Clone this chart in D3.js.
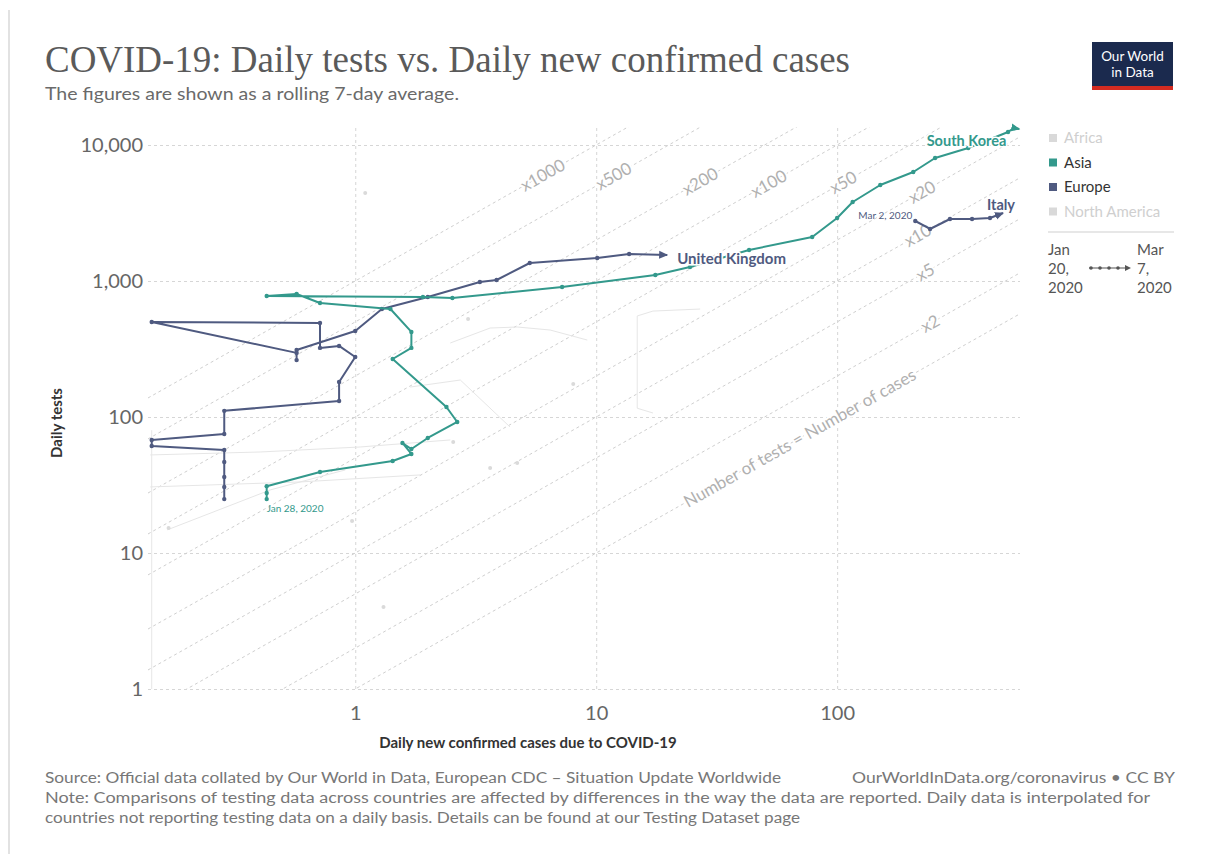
<!DOCTYPE html>
<html>
<head>
<meta charset="utf-8">
<script src="https://cdn.jsdelivr.net/npm/d3@7"></script>
<style>
  body { margin: 0; background: #fff; }
  svg { display: block; font-family: Lato, "Noto Sans", sans-serif; }
</style>
</head>
<body>
<svg id="chart" width="1208" height="854"></svg>
<script>
// ---- Data: 7-day rolling averages (daily new cases, daily tests) ----
const ukCases = [0.286, 0.286, 0.286, 0.286, 0.286, 0.143, 0.143, 0.286, 0.286, 0.857, 0.857, 1.0, 0.857, 0.714,
  0.714, 0.143, 0.571, 0.571, 0.571, 1.0, 1.29, 2.0, 3.29, 3.86, 5.3, 10.1, 13.7, 19.7];
const ukTests = [24.9, 30.6, 36.2, 46.7, 57.2, 61.2, 67.8, 75, 111, 131, 181, 276, 333, 322,
  491, 500, 296, 262, 311, 429, 622, 763, 984, 1017, 1356, 1476, 1580, 1553];

const koreaCases = [0.429, 0.429, 0.429, 0.714, 1.43, 1.71, 1.57, 1.71, 2.0, 2.65, 2.39, 1.43, 1.71, 1.71, 1.40,
  0.714, 0.571, 0.429, 1.91, 2.53, 7.22, 17.6, 24.5, 43.1, 78.8, 100, 116, 151, 207, 255, 350, 512, 543, 570];
const koreaTests = [24.9, 27.6, 31.0, 39.4, 47.5, 53.5, 64.4, 58.2, 70.1, 91.9, 118.5, 267, 322, 422, 622,
  689, 802, 776, 763, 750, 903, 1107, 1268, 1690, 2107, 2905, 3810, 5081, 6330, 8020, 9500, 12470, 13330, 13100];

const italyCases = [211, 243, 294, 363, 431, 488];
const italyTests = [2761, 2412, 2857, 2857, 2904, 3162];

// Other countries, shown faded
const fadedCases = [
  [2.48, 3.63, 4.70, 6.44, 9.18],
  [27.0, 17.2, 14.8, 14.8, 17.2],
  [0.141, 0.404, 1.05, 2.48],
  [0.141, 0.591, 1.86],
  [0.166, 0.444, 0.909],
  [1.69, 2.73, 4.39],
  [0.143, 0.143]
];
const fadedTests = [
  [350, 451, 459, 436, 368],
  [622, 601, 553, 116, 107],
  [52.6, 55.3, 60.2, 67.8],
  [30.6, 33.3, 37.5],
  [14.8, 29.1, 40.8],
  [166, 187, 84.4],
  [80, 1]
];
const fadedDotCases = [1.10, 2.94, 8.03, 2.55, 3.63, 4.70, 1.31, 0.97, 0.168];
const fadedDotTests = [4436, 526, 175, 65.5, 42.2, 45.9, 4.0, 17.2, 15.3];

// Reference lines: tests = ratio × cases
const ratios = [1, 2, 5, 10, 20, 50, 100, 200, 500, 1000];
const ratioLabels = ["Number of tests = Number of cases", "x2", "x5", "x10", "x20", "x50", "x100", "x200", "x500", "x1000"];
const ratioLabelAt = [70, 243, 232, 216, 225, 106, 52, 27, 11.8, 6.0]; // cases value where each label sits

const xTicks = [1, 10, 100];
const yTicks = [1, 10, 100, 1000, 10000];

const legendNames = ["Africa", "Asia", "Europe", "North America"];
const legendActive = [false, true, true, false];

// ---- Layout ----
const svg = d3.select("#chart");
const L = 148, R = 1020, T = 127, B = 689;
const x = d3.scaleLog().domain([0.138, 574]).range([L, R]);
const y = d3.scaleLog().domain([1, 13560]).range([B, T]);

const colAsia = "#33998c", colEurope = "#4f5a80";
const colors = { Asia: colAsia, Europe: colEurope };

// Frame line on the left
svg.append("line").attr("x1", 9).attr("x2", 9).attr("y1", 10).attr("y2", 854)
  .attr("stroke", "#d8d8d8").attr("stroke-width", 1.5);

// Title & subtitle
svg.append("text").attr("x", 45).attr("y", 72)
  .attr("font-family", "'Liberation Serif', 'DejaVu Serif', serif")
  .attr("font-size", 38).attr("fill", "#5a5a5a")
  .attr("textLength", 805).attr("lengthAdjust", "spacingAndGlyphs")
  .text("COVID-19: Daily tests vs. Daily new confirmed cases");
svg.append("text").attr("x", 45).attr("y", 100)
  .attr("font-size", 16.5).attr("fill", "#6a6a6a")
  .attr("textLength", 414).attr("lengthAdjust", "spacingAndGlyphs")
  .text("The figures are shown as a rolling 7-day average.");

// Logo
const logo = svg.append("g");
logo.append("rect").attr("x", 1092).attr("y", 42).attr("width", 81).attr("height", 48).attr("fill", "#1b2a4e");
logo.append("rect").attr("x", 1092).attr("y", 86).attr("width", 81).attr("height", 4).attr("fill", "#d42b21");
logo.append("text").attr("x", 1132.5).attr("y", 61).attr("text-anchor", "middle")
  .attr("font-size", 13.5).attr("fill", "#fff").text("Our World");
logo.append("text").attr("x", 1132.5).attr("y", 77).attr("text-anchor", "middle")
  .attr("font-size", 13.5).attr("fill", "#fff").text("in Data");

// Clip for the plot area
svg.append("defs").append("clipPath").attr("id", "plotClip")
  .append("rect").attr("x", L).attr("y", T).attr("width", R - L).attr("height", B - T);

// Gridlines + axes
const yAxis = d3.axisLeft(y).tickValues(yTicks).tickFormat(d3.format(","))
  .tickSize(-(R - L)).tickPadding(5);
const gy = svg.append("g").attr("transform", `translate(${L},0)`).call(yAxis);
gy.select(".domain").remove();
gy.selectAll(".tick line").attr("stroke", "#d6d6d6").attr("stroke-dasharray", "3,3");
gy.selectAll(".tick text").attr("font-size", 20).attr("fill", "#666").attr("font-family", "Lato, sans-serif");

const xAxis = d3.axisBottom(x).tickValues(xTicks).tickFormat(d3.format(","))
  .tickSize(-(B - T)).tickPadding(17);
const gx = svg.append("g").attr("transform", `translate(0,${B})`).call(xAxis);
gx.select(".domain").remove();
gx.selectAll(".tick line").attr("stroke", "#d6d6d6").attr("stroke-dasharray", "3,3");
gx.selectAll(".tick text").attr("font-size", 20).attr("fill", "#666").attr("font-family", "Lato, sans-serif");

// Axis titles
svg.append("text").attr("x", 528).attr("y", 748).attr("text-anchor", "middle")
  .attr("font-size", 15).attr("font-weight", 700).attr("fill", "#333")
  .text("Daily new confirmed cases due to COVID-19");
svg.append("text").attr("transform", "translate(62,423) rotate(-90)").attr("text-anchor", "middle")
  .attr("font-size", 15).attr("font-weight", 700).attr("fill", "#333")
  .text("Daily tests");

// Ratio lines
const plot = svg.append("g").attr("clip-path", "url(#plotClip)");
const [x0, x1] = x.domain();
ratios.forEach(k => {
  plot.append("line")
    .attr("x1", x(x0)).attr("y1", y(k * x0))
    .attr("x2", x(x1)).attr("y2", y(k * x1))
    .attr("stroke", "#cfcfcf").attr("stroke-width", 1).attr("stroke-dasharray", "3,3");
});

// Faded countries
const line = d3.line().x(d => x(d[0])).y(d => y(d[1]));
fadedCases.forEach((cs, i) => {
  const pts = cs.map((c, j) => [c, fadedTests[i][j]]);
  plot.append("path").attr("d", line(pts)).attr("fill", "none")
    .attr("stroke", "#e6e6e6").attr("stroke-width", 1);
});
fadedDotCases.forEach((c, i) => {
  plot.append("circle").attr("cx", x(c)).attr("cy", y(fadedDotTests[i])).attr("r", 2).attr("fill", "#dadada");
});

// Ratio labels
const angle = Math.atan2(y(10) - y(1), x(10) - x(1)) * 180 / Math.PI;
ratios.forEach((k, i) => {
  const c = ratioLabelAt[i];
  svg.append("text")
    .attr("transform", `translate(${x(c)},${y(k * c)}) rotate(${angle})`)
    .attr("text-anchor", "middle").attr("dy", "0.35em")
    .attr("font-size", 17).attr("fill", "#b0b0b0")
    .attr("stroke", "#fff").attr("stroke-width", 4).attr("paint-order", "stroke")
    .text(ratioLabels[i]);
});

// Arrow markers
const defs = svg.select("defs");
Object.entries(colors).forEach(([name, col]) => {
  defs.append("marker").attr("id", "arrow-" + name)
    .attr("viewBox", "0 -5 10 10").attr("refX", 8).attr("refY", 0)
    .attr("markerWidth", 10).attr("markerHeight", 10).attr("markerUnits", "userSpaceOnUse")
    .attr("orient", "auto")
    .append("path").attr("d", "M0,-4L9,0L0,4Z").attr("fill", col);
});

// Country lines
const series = [
  { name: "United Kingdom", region: "Europe", cases: ukCases, tests: ukTests },
  { name: "South Korea", region: "Asia", cases: koreaCases, tests: koreaTests },
  { name: "Italy", region: "Europe", cases: italyCases, tests: italyTests }
];
series.forEach(s => {
  const col = colors[s.region];
  const pts = s.cases.map((c, i) => [c, s.tests[i]]);
  const g = svg.append("g");
  g.append("path").attr("d", line(pts)).attr("fill", "none")
    .attr("stroke", col).attr("stroke-width", 2).attr("stroke-linejoin", "round")
    .attr("marker-end", `url(#arrow-${s.region})`);
  g.selectAll("circle").data(pts.slice(0, -1)).join("circle")
    .attr("cx", d => x(d[0])).attr("cy", d => y(d[1])).attr("r", 2.2).attr("fill", col);
  s.pts = pts;
});

// Line labels
function endPoint(s) { const p = s.pts[s.pts.length - 1]; return [x(p[0]), y(p[1])]; }
function startPoint(s) { const p = s.pts[0]; return [x(p[0]), y(p[1])]; }
const halo = sel => sel.attr("stroke", "#fff").attr("stroke-width", 3).attr("paint-order", "stroke");

let [ex, ey] = endPoint(series[0]);
svg.append("text").attr("x", ex + 10).attr("y", ey + 9).attr("font-size", 15).attr("font-weight", 700)
  .attr("fill", colEurope).call(halo).text("United Kingdom");
[ex, ey] = endPoint(series[1]);
svg.append("text").attr("x", ex - 13).attr("y", ey + 17).attr("text-anchor", "end").attr("font-size", 14.5)
  .attr("font-weight", 700).attr("fill", colAsia).call(halo).text("South Korea");
[ex, ey] = endPoint(series[2]);
svg.append("text").attr("x", ex + 12).attr("y", ey - 3).attr("text-anchor", "end").attr("font-size", 14.5)
  .attr("font-weight", 700).attr("fill", colEurope).call(halo).text("Italy");

let [sx, sy] = startPoint(series[1]);
svg.append("text").attr("x", sx).attr("y", sy + 13).attr("font-size", 10)
  .attr("fill", colAsia).text("Jan 28, 2020");
[sx, sy] = startPoint(series[2]);
svg.append("text").attr("x", sx - 3).attr("y", sy - 2).attr("text-anchor", "end").attr("font-size", 10)
  .attr("fill", colEurope).text("Mar 2, 2020");

// Legend
const legendColors = { Africa: "#d9d9d9", Asia: colAsia, Europe: colEurope, "North America": "#d9d9d9" };
legendNames.forEach((n, i) => {
  const yy = 143 + i * 24.5;
  svg.append("rect").attr("x", 1049).attr("y", yy - 9).attr("width", 8).attr("height", 8)
    .attr("fill", legendActive[i] ? legendColors[n] : "#d9d9d9");
  svg.append("text").attr("x", 1064).attr("y", yy).attr("font-size", 15)
    .attr("fill", legendActive[i] ? "#333" : "#cfcfcf").text(n);
});
svg.append("line").attr("x1", 1048).attr("x2", 1174).attr("y1", 232).attr("y2", 232)
  .attr("stroke", "#cfcfcf").attr("stroke-width", 1);

const startLines = ["Jan", "20,", "2020"], endLines = ["Mar", "7,", "2020"];
startLines.forEach((t, i) => svg.append("text").attr("x", 1048).attr("y", 255 + i * 19)
  .attr("font-size", 15).attr("fill", "#555").text(t));
endLines.forEach((t, i) => svg.append("text").attr("x", 1137).attr("y", 255 + i * 19)
  .attr("font-size", 15).attr("fill", "#555").text(t));
svg.append("line").attr("x1", 1089).attr("x2", 1127).attr("y1", 268).attr("y2", 268)
  .attr("stroke", "#555").attr("stroke-width", 1.2);
[1091, 1100, 1109, 1118].forEach(cx => svg.append("circle").attr("cx", cx).attr("cy", 268).attr("r", 1.8).attr("fill", "#555"));
svg.append("path").attr("d", "M1125,265L1131,268L1125,271Z").attr("fill", "#555");

// Footer
svg.append("text").attr("x", 45).attr("y", 783).attr("font-size", 14.5).attr("fill", "#777")
  .attr("textLength", 736).attr("lengthAdjust", "spacingAndGlyphs")
  .text("Source: Official data collated by Our World in Data, European CDC – Situation Update Worldwide");
svg.append("text").attr("x", 1175).attr("y", 783).attr("text-anchor", "end").attr("font-size", 14.5).attr("fill", "#777")
  .attr("textLength", 323).attr("lengthAdjust", "spacingAndGlyphs")
  .text("OurWorldInData.org/coronavirus • CC BY");
svg.append("text").attr("x", 45).attr("y", 803).attr("font-size", 14.5).attr("fill", "#777")
  .attr("textLength", 1105).attr("lengthAdjust", "spacingAndGlyphs")
  .text("Note: Comparisons of testing data across countries are affected by differences in the way the data are reported. Daily data is interpolated for");
svg.append("text").attr("x", 45).attr("y", 823).attr("font-size", 14.5).attr("fill", "#777")
  .attr("textLength", 755).attr("lengthAdjust", "spacingAndGlyphs")
  .text("countries not reporting testing data on a daily basis. Details can be found at our Testing Dataset page");
</script>
</body>
</html>
